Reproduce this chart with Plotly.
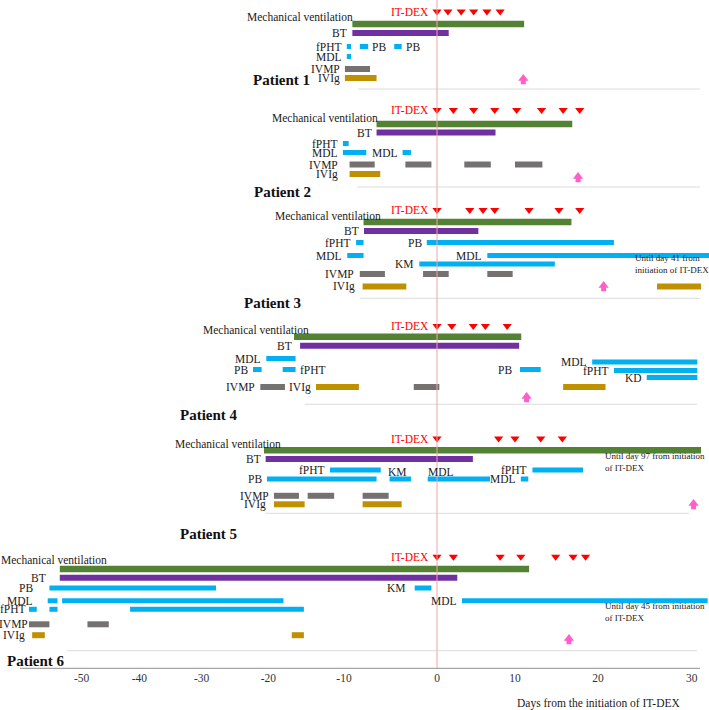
import numpy as np
import plotly.graph_objects as go

# ---- axis: the hand-drawn day axis is uneven, so ticks are mapped piecewise
TICK_DAYS = [-50, -40, -30, -20, -10, 0, 10, 20, 30]
TICK_TEXT = ["-50", "-40", "-30", "-20", "-10", "0", "10", "20", "30"]
TICK_PX = [81.7, 139.3, 201.7, 268.3, 344, 437, 515, 598, 691.7]

# ---- data (days from initiation of IT-DEX)
# bars: (drug, lane, start, end); labels: (text, lane, day, anchor)
P1_DEX = [0, 1.4, 3.1, 4.7, 6.4, 8.1]
P1_ARROW = 11.0
P1_BARS = [("MV", "mv", -9.1, 11.1), ("BT", "bt", -9.1, 1.5),
           ("fPHT", "a", -9.7, -9.25), ("PB", "a", -8.3, -7.4), ("PB", "a", -4.6, -3.8),
           ("MDL", "b", -9.7, -9.25), ("IVMP", "c", -9.9, -7.2), ("IVIg", "d", -9.9, -6.5)]
P1_LABELS = [("Mechanical ventilation", "mvt", -8.5, "r"), ("BT", "bt", -9.1, "r"),
             ("fPHT", "a", -9.7, "r"), ("PB", "a", -7.4, "l"), ("PB", "a", -3.8, "l"),
             ("MDL", "b", -9.7, "r"), ("IVMP", "c", -9.9, "r"), ("IVIg", "d", -9.9, "r")]

P2_DEX = [0, 2.1, 4.7, 7.4, 10.2, 13.2, 15.8, 17.8]
P2_ARROW = 17.6
P2_BARS = [("MV", "mv", -6.5, 16.9), ("BT", "bt", -6.5, 7.5),
           ("fPHT", "a", -10.15, -9.5), ("MDL", "b", -10.15, -7.6), ("MDL", "b", -3.7, -2.8),
           ("IVMP", "c", -9.4, -6.7), ("IVMP", "c", -3.4, -0.6), ("IVMP", "c", 3.5, 6.9),
           ("IVMP", "c", 10.0, 13.3), ("IVIg", "d", -9.4, -6.1)]
P2_LABELS = [("Mechanical ventilation", "mvt", -5.8, "r"), ("BT", "bt", -6.5, "r"),
             ("fPHT", "a", -10.15, "r"), ("MDL", "b", -10.15, "r"), ("MDL", "b", -3.7, "r"),
             ("IVMP", "c", -10.1, "r"), ("IVIg", "d", -10.1, "r")]

P3_DEX = [0, 4.2, 5.9, 7.4, 11.7, 15.3, 17.8]
P3_ARROW = 20.6
P3_BARS = [("MV", "mv", -7.9, 16.8), ("BT", "bt", -7.85, 5.3),
           ("fPHT", "a", -8.7, -7.9), ("PB", "a", -1.1, 21.7),
           ("MDL", "b", -9.65, -7.9), ("MDL", "b", 6.45, 31.9), ("KM", "c", -1.9, 14.8),
           ("IVMP", "d", -8.3, -5.6), ("IVMP", "d", -1.5, 1.5), ("IVMP", "d", 6.45, 9.7),
           ("IVIg", "e", -8.0, -3.3), ("IVIg", "e", 26.3, 31.0)]
P3_LABELS = [("Mechanical ventilation", "mvt", -5.5, "r"), ("BT", "bt", -7.85, "r"),
             ("fPHT", "a", -8.7, "r"), ("PB", "a", -1.1, "r"), ("MDL", "b", -9.65, "r"),
             ("MDL", "b", 6.45, "r"), ("KM", "c", -1.9, "r"), ("IVMP", "d", -8.4, "r"),
             ("IVIg", "e", -8.3, "r")]
P3_NOTE = ("Until day 41 from<br>initiation of IT-DEX", 23.5)

P4_DEX = [0, 1.9, 4.65, 6.2, 9.0]
P4_ARROW = 11.4
P4_BARS = [("MV", "mv", -16.6, 10.75), ("BT", "bt", -15.8, 10.5),
           ("MDL", "a", -20.3, -16.4), ("PB", "b", -22.3, -21.0), ("fPHT", "b", -18.1, -16.4),
           ("IVMP", "d", -21.2, -17.8), ("IVMP", "d", -2.5, 0.3), ("IVIg", "d", -13.7, -8.4),
           ("PB", "b", 10.6, 13.1), ("MDL", "a2", 19.3, 30.6), ("fPHT", "b2", 21.7, 30.6),
           ("KD", "c", 25.2, 30.6), ("IVIg", "d", 15.8, 20.8)]
P4_LABELS = [("Mechanical ventilation", "mvt", -13.9, "r"), ("BT", "bt", -16.2, "r"),
             ("MDL", "a", -20.3, "r"), ("PB", "b", -22.3, "r"), ("fPHT", "b", -16.4, "l"),
             ("IVMP", "d", -21.2, "r"), ("IVIg", "d", -13.7, "r"), ("PB", "b", 10.3, "r"),
             ("MDL", "a2", 19.3, "r"), ("fPHT", "b2", 21.7, "r"), ("KD", "c", 25.2, "r")]

P5_DEX = [0, 7.9, 10.0, 13.1, 15.7]
P5_ARROW = 30.2
P5_BARS = [("MV", "mv", -20.65, 31.0), ("BT", "bt", -20.4, 4.6),
           ("fPHT", "a", -11.85, -6.05), ("fPHT", "a", 12.1, 18.2),
           ("PB", "b", -20.2, -6.5), ("KM", "b", -5.1, -2.8), ("MDL", "b", -1.0, 6.8),
           ("MDL", "b", 10.7, 11.6),
           ("IVMP", "c", -19.25, -15.95), ("IVMP", "c", -14.8, -11.3), ("IVMP", "c", -8.0, -5.2),
           ("IVIg", "d", -19.25, -15.2), ("IVIg", "d", -8.0, -3.8)]
P5_LABELS = [("Mechanical ventilation", "mvt", -17.7, "r"), ("BT", "bt", -20.4, "r"),
             ("fPHT", "a", -11.85, "r"), ("fPHT", "a", 12.1, "r"), ("PB", "b", -20.2, "r"),
             ("KM", "at", -4.2, "c"), ("MDL", "at", 0.5, "c"), ("MDL", "b", 10.7, "r"),
             ("IVMP", "c", -19.25, "r"), ("IVIg", "d", -19.6, "r")]
P5_NOTE = ("Until day 97 from initiation<br>of IT-DEX", 20.3)

P6_DEX = [0, 2.1, 8.1, 10.7, 14.9, 17.0, 18.5]
P6_ARROW = 16.5
P6_BARS = [("MV", "mv", -53.8, 11.7), ("BT", "bt", -53.8, 2.6),
           ("PB", "a", -55.6, -27.85), ("KM", "a", -2.4, -0.6),
           ("MDL", "b", -55.9, -54.2), ("MDL", "b", -53.4, -18.0), ("MDL", "b", 3.2, 31.7),
           ("fPHT", "c", -59.15, -57.8), ("fPHT", "c", -55.6, -54.2), ("fPHT", "c", -41.6, -15.3),
           ("IVMP", "d", -59.15, -55.6), ("IVMP", "d", -49.0, -45.3),
           ("IVIg", "e", -58.6, -56.4), ("IVIg", "e", -16.9, -15.3)]
P6_LABELS = [("Mechanical ventilation", "mvt", -44.7, "r"), ("BT", "bt", -55.3, "r"),
             ("PB", "a", -57.6, "r"), ("KM", "a", -2.76, "r"), ("MDL", "b", -57.6, "r"),
             ("MDL", "b", 3.2, "r"), ("fPHT", "c", -58.75, "r"), ("IVMP", "d", -58.45, "r"),
             ("IVIg", "e", -59.0, "r")]
P6_NOTE = ("Until day 45 from initiation<br>of IT-DEX", 20.3)

PATIENTS = [
    ("Patient 1", P1_DEX, P1_ARROW, P1_BARS, P1_LABELS, None),
    ("Patient 2", P2_DEX, P2_ARROW, P2_BARS, P2_LABELS, None),
    ("Patient 3", P3_DEX, P3_ARROW, P3_BARS, P3_LABELS, P3_NOTE),
    ("Patient 4", P4_DEX, P4_ARROW, P4_BARS, P4_LABELS, None),
    ("Patient 5", P5_DEX, P5_ARROW, P5_BARS, P5_LABELS, P5_NOTE),
    ("Patient 6", P6_DEX, P6_ARROW, P6_BARS, P6_LABELS, P6_NOTE),
]

# ---- layout (page pixels)
LANES = [
    dict(dex=11.5, mvt=17, mv=24, bt=33, a=46.5, b=56.5, c=69, d=78, arrow=79),
    dict(dex=110, mvt=117.5, mv=124, bt=132.5, a=143.5, b=152.5, c=164.5, d=174, arrow=177),
    dict(dex=210, mvt=215.5, mv=222, bt=231, a=242.5, b=255.5, c=264, d=274, e=286.5,
         note=264, arrow=286),
    dict(dex=326, mvt=329.5, mv=336.7, bt=345.8, a=358.5, a2=362, b=369.5, b2=370.5,
         c=377.5, d=387, arrow=397),
    dict(dex=438.5, mvt=443.5, mv=450.3, bt=459, a=470, at=471.5, b=479, c=495.8, d=504.3,
         note=462, arrow=504),
    dict(dex=556.7, mvt=560, mv=569, bt=577.7, a=588, b=600.8, c=609.3, d=624.3, e=635.2,
         note=612, arrow=639),
]
PATIENT_POS = [(251, 79.5), (252, 192), (242, 303), (178, 415), (178, 534), (4.5, 661)]
SEPARATORS = [(89, 358, 700), (187, 357, 700), (298.3, 360, 700),
              (404.3, 304.5, 697), (513.3, 265.5, 689), (650.7, 67, 697)]

COLORS = {"MV": "#548235", "BT": "#7030a0", "fPHT": "#00b0f0", "PB": "#00b0f0",
          "MDL": "#00b0f0", "KM": "#00b0f0", "KD": "#00b0f0", "IVMP": "#767171",
          "IVIg": "#bf9000"}
HEIGHTS = {"MV": 6.5, "BT": 6, "IVMP": 6, "IVIg": 6}
FONT = "Liberation Serif"
W, H, BOTTOM = 709, 710, 41
PLOT_H = H - BOTTOM


def sx(day):
    d = np.atleast_1d(np.asarray(day, dtype=float))
    out = np.interp(d, TICK_DAYS, TICK_PX)
    lo, hi = d < TICK_DAYS[0], d > TICK_DAYS[-1]
    out[lo] = TICK_PX[0] + (d[lo] - TICK_DAYS[0]) * (TICK_PX[1] - TICK_PX[0]) / 10
    out[hi] = TICK_PX[-1] + (d[hi] - TICK_DAYS[-1]) * (TICK_PX[-1] - TICK_PX[-2]) / 10
    return out


fig = go.Figure()
annotations = []
shapes = []

# bars, grouped by drug colour
groups = {}
for i, (name, dex, arrow, bars, labels, note) in enumerate(PATIENTS):
    lanes = LANES[i]
    for drug, lane, start, end in bars:
        g = groups.setdefault(drug, dict(base=[], x=[], y=[], w=[]))
        x0, x1 = sx([start, end])
        g["base"].append(x0)
        g["x"].append(x1 - x0)
        g["y"].append(lanes[lane])
        g["w"].append(HEIGHTS.get(drug, 5))

for drug, g in groups.items():
    fig.add_trace(go.Bar(
        base=g["base"], x=g["x"], y=g["y"], width=g["w"], orientation="h",
        marker=dict(color=COLORS[drug], line=dict(width=0)),
        hoverinfo="skip", showlegend=False,
    ))

# IT-DEX doses and pink arrows
dx, dy, ax, ay = [], [], [], []
for i, (name, dex, arrow, bars, labels, note) in enumerate(PATIENTS):
    lanes = LANES[i]
    dx += list(sx(dex))
    dy += [lanes["dex"]] * len(dex)
    ax.append(sx(arrow)[0])
    ay.append(lanes["arrow"])

fig.add_trace(go.Scatter(
    x=dx, y=dy, mode="markers", hoverinfo="skip", showlegend=False,
    marker=dict(symbol="triangle-down", size=8, color="#ff0000"),
))
fig.add_trace(go.Scatter(
    x=ax, y=[v - 0.5 for v in ay], mode="markers", hoverinfo="skip", showlegend=False,
    marker=dict(symbol="triangle-up", size=9, color="#ff5fc8"),
))
fig.add_trace(go.Scatter(
    x=ax, y=[v + 2.75 for v in ay], mode="markers", hoverinfo="skip", showlegend=False,
    marker=dict(symbol="square", size=5, color="#ff5fc8"),
))

# text
for i, (name, dex, arrow, bars, labels, note) in enumerate(PATIENTS):
    lanes = LANES[i]
    annotations.append(dict(
        x=sx(0)[0], y=lanes["dex"], text="IT-DEX", xanchor="right", xshift=-6,
        font=dict(family=FONT, size=11.5, color="#ff0000"),
    ))
    for text, lane, day, anchor in labels:
        xa = {"r": "right", "l": "left", "c": "center"}[anchor]
        shift = {"r": -3, "l": 2, "c": 0}[anchor]
        annotations.append(dict(
            x=sx(day)[0], y=lanes[lane], text=text, xanchor=xa, xshift=shift,
            font=dict(family=FONT, size=11.5, color="#1a1a1a"),
        ))
    if note:
        annotations.append(dict(
            x=sx(note[1])[0], y=lanes["note"], text=note[0], xanchor="left", align="left",
            xshift=2, font=dict(family=FONT, size=9, color="#1a1a1a"),
        ))
    px, py = PATIENT_POS[i]
    annotations.append(dict(
        x=px, y=py, text=f"<b>{name}</b>", xanchor="left",
        font=dict(family=FONT, size=15, color="#111111"),
    ))

annotations.append(dict(
    x=682 / W, y=1 - 703 / PLOT_H, xref="paper", yref="paper",
    text="Days from the initiation of IT-DEX", xanchor="right",
    font=dict(family=FONT, size=11.5, color="#1a1a1a"),
))
for a in annotations:
    a.setdefault("xref", "x")
    a.setdefault("yref", "y")
    a.setdefault("yanchor", "middle")
    a["showarrow"] = False

# separators, day-0 line, bottom axis line
for y, x0, x1 in SEPARATORS:
    shapes.append(dict(type="line", x0=x0, x1=x1, y0=y, y1=y, xref="x", yref="y",
                       line=dict(color="#dcdcdc", width=1), layer="below"))
shapes.append(dict(type="line", x0=sx(0)[0], x1=sx(0)[0], y0=0, y1=668.5, xref="x", yref="y",
                   line=dict(color="#f5a3a3", width=1)))
shapes.append(dict(type="line", x0=20, x1=700, y0=668.5, y1=668.5, xref="x", yref="y",
                   line=dict(color="#a6a6a6", width=1.5)))

fig.update_layout(
    width=W, height=H,
    margin=dict(l=0, r=0, t=0, b=BOTTOM),
    paper_bgcolor="white", plot_bgcolor="white",
    barmode="overlay", showlegend=False,
    annotations=annotations, shapes=shapes,
    xaxis=dict(range=[0, W], showgrid=False, zeroline=False, showline=False, ticks="",
               tickvals=list(sx(TICK_DAYS)), ticktext=TICK_TEXT,
               tickfont=dict(family=FONT, size=11.5, color="#333333")),
    yaxis=dict(range=[PLOT_H, 0], visible=False),
)

# page body has a default 8px margin; drop it so the figure sits at the window origin
fig.write_html("out.html", config={"displayModeBar": False},
               post_script="document.body.style.margin='0';")
